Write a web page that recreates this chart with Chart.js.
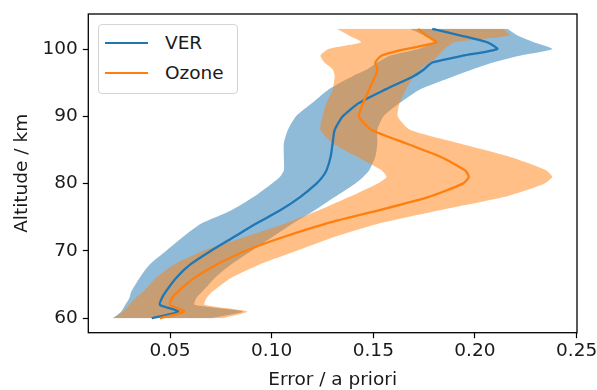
<!DOCTYPE html>
<html>
<head>
<meta charset="utf-8">
<script src="https://cdn.jsdelivr.net/npm/chart.js@4.4.0/dist/chart.umd.min.js"></script>
<style>
  body { margin: 0; background: #fff; }
  #wrap { position: relative; width: 597px; height: 390px; }
  #legend {
    position: absolute; left: 98px; top: 24px; width: 140px; height: 70px;
    box-sizing: border-box; border: 1px solid #d4d4d4; border-radius: 4px;
    background: #fff; font-family: "DejaVu Sans"; font-size: 18.5px; color: #1a1a1a;
  }
  .entry { position: absolute; left: 0; height: 24px; line-height: 24px; }
  .entry i { position: absolute; left: 6px; top: 11px; width: 43px; height: 2.3px; }
  .entry span { position: absolute; left: 66px; top: 0; white-space: nowrap; }
</style>
</head>
<body>
<div id="wrap">
  <canvas id="chart" width="597" height="390"></canvas>
  <div id="legend">
    <div class="entry" style="top:6px"><i style="background:#1f77b4"></i><span>VER</span></div>
    <div class="entry" style="top:36px"><i style="background:#ff7f0e"></i><span>Ozone</span></div>
  </div>
</div>
<script>
// altitude grid (km) and error profiles
const altitude = [60, 61, 62, 63, 64, 66, 68, 70, 72, 74, 76, 78, 80, 81, 82, 84, 86, 88, 90, 92, 94, 96, 97, 98, 99, 100, 101, 102, 103];

const verMean = [0.041, 0.054, 0.045, 0.046, 0.048, 0.053, 0.060, 0.070, 0.081, 0.092, 0.104, 0.114, 0.122, 0.125, 0.127, 0.129, 0.130, 0.131, 0.135, 0.143, 0.156, 0.170, 0.175, 0.179, 0.194, 0.211, 0.206, 0.193, 0.179];
const verLow = [0.022, 0.026, 0.028, 0.030, 0.031, 0.035, 0.040, 0.048, 0.056, 0.065, 0.080, 0.091, 0.100, 0.104, 0.106, 0.106, 0.106, 0.108, 0.112, 0.120, 0.128, 0.140, 0.147, 0.152, 0.158, 0.172, 0.180, 0.175, 0.168];
const verHigh = [0.070, 0.086, 0.062, 0.063, 0.066, 0.072, 0.080, 0.090, 0.100, 0.110, 0.121, 0.131, 0.141, 0.145, 0.148, 0.151, 0.152, 0.152, 0.155, 0.163, 0.173, 0.190, 0.199, 0.209, 0.222, 0.238, 0.229, 0.221, 0.216];

const ozoneMean = [0.045, 0.057, 0.050, 0.051, 0.054, 0.062, 0.073, 0.087, 0.105, 0.126, 0.152, 0.177, 0.194, 0.197, 0.195, 0.183, 0.166, 0.149, 0.143, 0.145, 0.148, 0.151, 0.152, 0.151, 0.154, 0.166, 0.181, 0.176, 0.172];
const ozoneLow = [0.022, 0.027, 0.030, 0.033, 0.037, 0.043, 0.052, 0.066, 0.086, 0.106, 0.123, 0.138, 0.152, 0.1565, 0.154, 0.142, 0.130, 0.124, 0.125, 0.127, 0.130, 0.131, 0.130, 0.126, 0.124, 0.128, 0.144, 0.138, 0.132];
const ozoneHigh = [0.076, 0.088, 0.067, 0.068, 0.071, 0.080, 0.094, 0.112, 0.130, 0.152, 0.182, 0.214, 0.234, 0.238, 0.235, 0.217, 0.192, 0.168, 0.162, 0.163, 0.166, 0.170, 0.173, 0.178, 0.182, 0.185, 0.190, 0.217, 0.214];

const xTicks = [0.05, 0.10, 0.15, 0.20, 0.25];
const yTicks = [60, 70, 80, 90, 100];

const pts = (xs) => xs.map((x, i) => ({ x, y: altitude[i] }));

const FONT = { family: "DejaVu Sans", size: 18.5, lineHeight: 1 };
const INK = "#1a1a1a";
const SMOOTH = 0.2;

const band = (data, fill, color, order) => ({
  data: pts(data),
  borderColor: "transparent",
  borderWidth: 0,
  backgroundColor: color,
  pointRadius: 0,
  tension: SMOOTH,
  fill,
  order
});

const frame = {
  id: "frame",
  afterDatasetsDraw(chart) {
    const { ctx, chartArea: a } = chart;
    ctx.save();
    ctx.strokeStyle = "#000";
    ctx.lineWidth = 1.3;
    ctx.strokeRect(a.left, a.top, a.right - a.left, a.bottom - a.top);
    ctx.restore();
  }
};

new Chart(document.getElementById("chart"), {
  type: "line",
  data: {
    datasets: [
      band(verLow, false, "transparent", 6),
      band(verHigh, "-1", "rgba(31,119,180,0.5)", 5),
      band(ozoneLow, false, "transparent", 4),
      band(ozoneHigh, "-1", "rgba(255,127,14,0.5)", 3),
      { label: "VER", data: pts(verMean), borderColor: "#1f77b4", borderWidth: 2.3, pointRadius: 0, tension: SMOOTH, fill: false, order: 1 },
      { label: "Ozone", data: pts(ozoneMean), borderColor: "#ff7f0e", borderWidth: 2.3, pointRadius: 0, tension: SMOOTH, fill: false, order: 0 }
    ]
  },
  options: {
    indexAxis: "y",
    responsive: false,
    animation: false,
    layout: { padding: { top: 14, right: 20, left: 0, bottom: 0 } },
    plugins: { legend: { display: false }, tooltip: { enabled: false } },
    scales: {
      x: {
        type: "linear",
        min: 0.0098,
        max: 0.2502,
        afterBuildTicks: (s) => { s.ticks = xTicks.map((v) => ({ value: v })); },
        afterFit: (s) => { s.height = 57.3; s.paddingLeft = 0; s.paddingRight = 0; },
        ticks: { callback: (v) => v.toFixed(2), font: FONT, color: INK, padding: 4, maxRotation: 0 },
        grid: { drawOnChartArea: false, drawTicks: true, tickLength: 5.5, tickWidth: 1.2, color: "#000" },
        border: { display: false },
        title: { display: true, text: "Error / a priori", font: FONT, color: INK, padding: { top: 0, bottom: 1 } }
      },
      y: {
        type: "linear",
        min: 57.86,
        max: 105.2,
        afterBuildTicks: (s) => { s.ticks = yTicks.map((v) => ({ value: v })); },
        afterFit: (s) => { s.width = 88.3; s.paddingTop = 0; s.paddingBottom = 0; },
        ticks: { font: FONT, color: INK, padding: 5 },
        grid: { drawOnChartArea: false, drawTicks: true, tickLength: 5.5, tickWidth: 1.2, color: "#000" },
        border: { display: false },
        title: { display: true, text: "Altitude / km", font: FONT, color: INK, padding: { top: 12.5, bottom: 0 } }
      }
    }
  },
  plugins: [frame]
});
</script>
</body>
</html>
